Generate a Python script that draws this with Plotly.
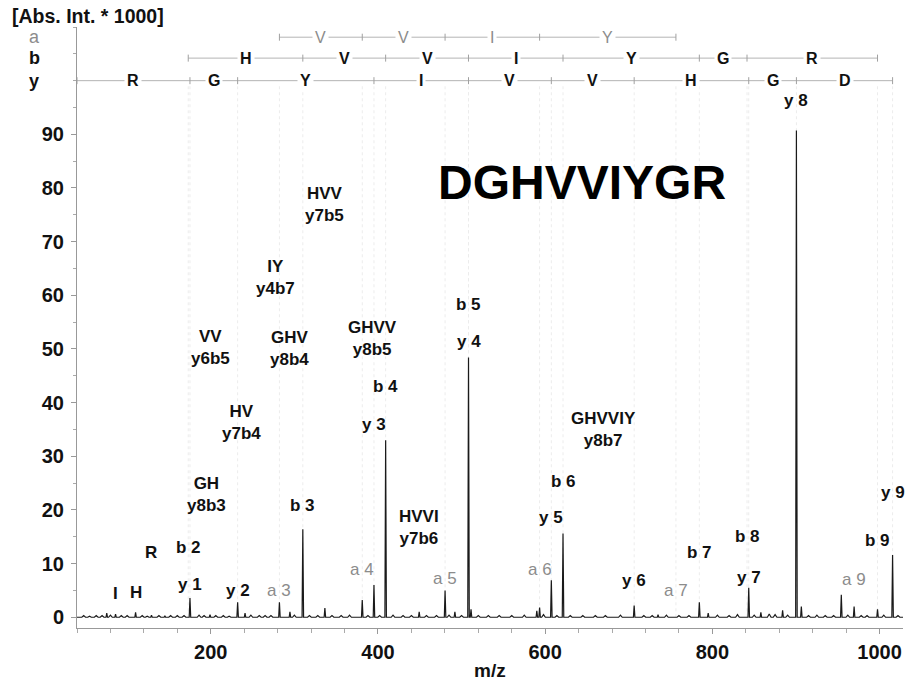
import plotly.graph_objects as go

# ---------------------------------------------------------------
# MS/MS spectrum of the peptide DGHVVIYGR
# ---------------------------------------------------------------
peptide = "DGHVVIYGR"

# fragment ion ladders (m/z) and the residues that separate them
a_ions = [282.12, 381.19, 480.26, 593.33, 756.40]
a_residues = ["V", "V", "I", "Y"]
b_ions = [173.06, 310.11, 409.18, 508.25, 621.33, 784.40, 841.42, 997.52]
b_residues = ["H", "V", "V", "I", "Y", "G", "R"]
y_ions = [175.12, 232.14, 395.20, 508.29, 607.36, 706.43, 843.49, 900.51, 1015.54]
y_residues = ["R", "G", "Y", "I", "V", "V", "H", "G", "D"]

# centroided peaks (m/z, intensity in thousands of counts)
peak_mz = [75.6, 86.1, 110.07, 129.1, 145.1, 175.12, 199.1, 232.14, 241.0,
           282.12, 294.7, 310.11, 336.5, 381.19, 395.20, 409.18, 449.3,
           480.26, 492.0, 508.29, 511.3, 590.0, 593.33, 607.36, 621.33,
           706.43, 735.0, 784.40, 795.0, 843.49, 858.0, 884.0, 900.51,
           906.4, 954.2, 969.52, 997.52, 1015.54]
peak_int = [0.8, 0.6, 0.9, 0.4, 0.3, 3.6, 0.5, 2.8, 0.8,
            2.8, 1.0, 16.4, 1.7, 3.2, 6.0, 33.0, 1.0,
            5.0, 1.0, 48.4, 1.5, 1.2, 1.8, 6.9, 15.6,
            2.2, 0.5, 2.8, 0.8, 5.5, 0.9, 1.3, 90.7,
            2.0, 4.2, 2.0, 1.5, 11.6]

# low-level chemical noise along the baseline
noise_mz = [48, 55, 63, 70, 80, 93, 100, 118, 124, 138, 152, 160, 168, 186,
            192, 206, 215, 222, 248, 258, 265, 272, 300, 318, 328, 345, 356,
            366, 388, 402, 418, 430, 440, 458, 470, 485, 500, 520, 532, 545,
            560, 575, 598, 614, 630, 645, 660, 672, 690, 718, 728, 745, 760,
            772, 806, 820, 830, 850, 868, 875, 890, 915, 925, 935, 945, 962,
            978, 985, 1005, 1022]
noise_int = [0.3, 0.2, 0.3, 0.3, 0.4, 0.3, 0.3, 0.3, 0.2, 0.3, 0.3, 0.3, 0.3, 0.4,
             0.3, 0.3, 0.3, 0.2, 0.4, 0.3, 0.3, 0.3, 0.4, 0.3, 0.3, 0.3, 0.3,
             0.4, 0.3, 0.3, 0.4, 0.3, 0.3, 0.3, 0.3, 0.4, 0.3, 0.3, 0.3, 0.3,
             0.3, 0.4, 0.5, 0.3, 0.3, 0.3, 0.3, 0.3, 0.4, 0.3, 0.3, 0.4, 0.3,
             0.3, 0.4, 0.3, 0.5, 0.4, 0.6, 0.5, 0.4, 0.3, 0.4, 0.3, 0.3, 0.4,
             0.3, 0.3, 0.4, 0.3]

# peak annotations: (m/z, label height, text, is a-ion)
peak_labels = [
    (86.1, 4.5, "I", False), (110.07, 4.7, "H", False), (129.1, 12.1, "R", False),
    (173.06, 13.0, "b 2", False), (175.12, 6.1, "y 1", False),
    (195.09, 22.8, "GH<br>y8b3", False), (232.14, 5.0, "y 2", False),
    (282.12, 5.0, "a 3", True), (310.11, 20.9, "b 3", False),
    (237.14, 36.3, "HV<br>y7b4", False), (199.14, 50.3, "VV<br>y6b5", False),
    (277.16, 63.4, "IY<br>y4b7", False), (294.16, 50.0, "GHV<br>y8b4", False),
    (336.20, 76.9, "HVV<br>y7b5", False), (393.22, 52.0, "GHVV<br>y8b5", False),
    (409.18, 43.0, "b 4", False), (395.20, 36.0, "y 3", False),
    (381.19, 8.9, "a 4", True), (449.28, 16.7, "HVVI<br>y7b6", False),
    (480.26, 7.3, "a 5", True), (508.25, 58.3, "b 5", False),
    (508.29, 51.4, "y 4", False), (593.33, 8.9, "a 6", True),
    (607.36, 18.6, "y 5", False), (621.33, 25.3, "b 6", False),
    (669.38, 35.0, "GHVVIY<br>y8b7", False), (706.43, 6.9, "y 6", False),
    (756.40, 5.0, "a 7", True), (784.40, 12.1, "b 7", False),
    (841.42, 15.1, "b 8", False), (843.49, 7.4, "y 7", False),
    (900.51, 96.3, "y 8", False), (969.52, 7.1, "a 9", True),
    (997.52, 14.4, "b 9", False), (1015.54, 23.3, "y 9", False),
]

X_MIN, X_MAX = 40, 1028
Y_MIN, Y_MAX = -2, 110
ROW_Y = {"a": 108.1, "b": 104.2, "y": 100.0}

FONT = "Liberation Sans, Arial, Helvetica, sans-serif"
BLACK = "#111111"
GRAY = "#8c8c8c"


def row_paper_y(value):
    """Vertical paper coordinate of a data value (for text left of the axis)."""
    return (value - Y_MIN) / (Y_MAX - Y_MIN)


# ---- build the profile trace from the peak lists ----
profile = sorted([(m, h, 0.9) for m, h in zip(peak_mz, peak_int)] +
                 [(m, h, 2.2) for m, h in zip(noise_mz, noise_int)])
spec_x, spec_y = [X_MIN], [0.0]
for m, h, w in profile:
    spec_x += [m - w, m, m + w]
    spec_y += [0.0, h, 0.0]
spec_x.append(X_MAX)
spec_y.append(0.0)

fig = go.Figure()

# faint guide lines from the ladders down to the fragment peaks
gx, gy = [], []
for m in sorted(set(a_ions + b_ions + y_ions)):
    gx += [m, m, None]
    gy += [0, 99, None]
fig.add_trace(go.Scatter(x=gx, y=gy, mode="lines",
                         line=dict(color="#ececec", width=1, dash="dot"),
                         hoverinfo="skip", showlegend=False))

fig.add_trace(go.Scatter(x=spec_x, y=spec_y, mode="lines",
                         line=dict(color="#1a1a1a", width=1.2),
                         hoverinfo="skip", showlegend=False))

annotations = []

# ---- sequence ladders ----
ladders = [
    ("a", a_ions, a_residues, GRAY, False),
    ("b", b_ions, b_residues, BLACK, True),
    ("y", [X_MIN] + y_ions, y_residues, BLACK, True),
]
for name, edges, residues, color, bold in ladders:
    ry = ROW_Y[name]
    fig.add_trace(go.Scatter(x=[edges[0], edges[-1]], y=[ry, ry], mode="lines",
                             line=dict(color="#b4b4b4", width=1),
                             hoverinfo="skip", showlegend=False))
    fig.add_trace(go.Scatter(x=edges, y=[ry] * len(edges), mode="markers",
                             marker=dict(symbol="line-ns", size=5,
                                         line=dict(color="#a0a0a0", width=1)),
                             hoverinfo="skip", showlegend=False))
    for left, right, res in zip(edges[:-1], edges[1:], residues):
        annotations.append(dict(
            x=(left + right) / 2, y=ry, text=f"<b>{res}</b>" if bold else res,
            showarrow=False, xanchor="center", yanchor="middle",
            bgcolor="white", borderpad=2,
            font=dict(family=FONT, size=16, color=color)))
    annotations.append(dict(
        xref="paper", yref="paper", x=-0.052, y=row_paper_y(ry),
        text=f"<b>{name}</b>" if bold else name, showarrow=False,
        xanchor="center", yanchor="middle",
        font=dict(family=FONT, size=18, color=color)))

# ---- peak labels ----
for m, h, txt, is_a in peak_labels:
    if is_a:
        text, color = txt, GRAY
    else:
        text, color = "<b>" + txt.replace("<br>", "</b><br><b>") + "</b>", BLACK
    annotations.append(dict(x=m, y=h, text=text, showarrow=False,
                            xanchor="center", yanchor="middle",
                            font=dict(family=FONT, size=17, color=color)))

# peptide sequence
annotations.append(dict(x=643.8, y=81.0, text=f"<b>{peptide}</b>", showarrow=False,
                        xanchor="center", yanchor="middle",
                        font=dict(family=FONT, size=48, color="#000000")))

# axis captions
annotations.append(dict(xref="paper", yref="paper", x=-0.081, y=1.018,
                        text="<b>[Abs. Int. * 1000]</b>",
                        showarrow=False, xanchor="left", yanchor="middle",
                        font=dict(family=FONT, size=19.5, color=BLACK)))
annotations.append(dict(xref="paper", yref="paper", x=0.5, y=-0.070,
                        text="<b>m/z</b>", showarrow=False,
                        xanchor="center", yanchor="middle",
                        font=dict(family=FONT, size=19, color=BLACK)))

fig.update_layout(
    width=905, height=684,
    margin=dict(l=77, r=2, t=27, b=56),
    paper_bgcolor="white", plot_bgcolor="white",
    showlegend=False,
    annotations=annotations,
    xaxis=dict(range=[X_MIN, X_MAX], showgrid=False, zeroline=False,
               showline=True, linecolor="#999999", linewidth=1,
               tickmode="array", tickvals=[200, 400, 600, 800, 1000],
               ticks="outside", ticklen=5, tickcolor="#999999",
               minor=dict(tickmode="linear", tick0=0, dtick=40, ticks="outside",
                          ticklen=4, tickcolor="#aaaaaa"),
               tickfont=dict(family=FONT, size=20, color=BLACK, weight="bold"),
               ticklabelstandoff=1),
    yaxis=dict(range=[Y_MIN, Y_MAX], showgrid=False, zeroline=False,
               showline=True, linecolor="#999999", linewidth=1,
               tickmode="array", tickvals=list(range(0, 100, 10)),
               ticks="outside", ticklen=5, tickcolor="#999999",
               minor=dict(tickmode="linear", tick0=0, dtick=5, ticks="outside",
                          ticklen=3, tickcolor="#aaaaaa"),
               tickfont=dict(family=FONT, size=20, color=BLACK, weight="bold"),
               ticklabelstandoff=3),
)

fig.write_html("out.html")
